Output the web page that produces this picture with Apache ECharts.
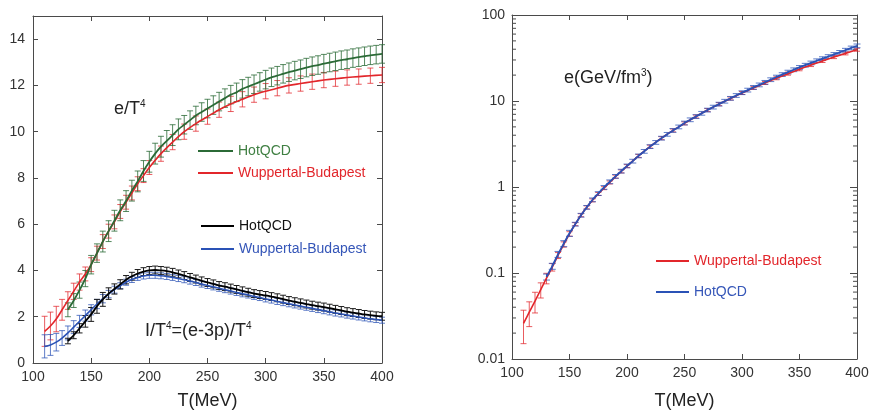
<!DOCTYPE html>
<html><head><meta charset="utf-8">
<script src="https://cdn.jsdelivr.net/npm/echarts@6/dist/echarts.min.js"></script>
<style>html,body{margin:0;padding:0;background:#fff}#c{width:870px;height:412px}</style>
</head><body><div id="c"></div>
<script>
// ---------- data ----------
var hotT = [130,135,140,145,150,155,160,165,170,175,180,185,190,195,200,205,210,215,220,225,230,235,240,245,250,255,260,265,270,275,280,285,290,295,300,305,310,315,320,325,330,335,340,345,350,355,360,365,370,375,380,385,390,395,400];
var hotEoverT4 = [2.3,2.7,3.15,3.65,4.25,4.75,5.25,5.7,6.15,6.6,7.0,7.45,7.85,8.3,8.7,9.05,9.35,9.6,9.85,10.1,10.3,10.5,10.7,10.85,11.0,11.15,11.3,11.45,11.6,11.7,11.85,11.95,12.05,12.15,12.25,12.35,12.42,12.5,12.57,12.64,12.7,12.77,12.83,12.88,12.94,12.99,13.04,13.09,13.13,13.18,13.22,13.26,13.3,13.33,13.36];
var hotEoverT4Err = [0.3,0.3,0.35,0.35,0.4,0.4,0.45,0.45,0.45,0.45,0.45,0.45,0.45,0.45,0.45,0.45,0.45,0.45,0.45,0.45,0.4,0.4,0.4,0.4,0.4,0.4,0.4,0.4,0.4,0.4,0.4,0.4,0.4,0.4,0.4,0.4,0.4,0.4,0.4,0.4,0.4,0.4,0.4,0.4,0.4,0.4,0.4,0.4,0.4,0.4,0.4,0.4,0.4,0.4,0.4];
var hotTrace = [0.95,1.2,1.5,1.8,2.1,2.45,2.75,3.0,3.2,3.4,3.6,3.75,3.87,3.95,4.0,4.02,4.0,3.97,3.92,3.85,3.78,3.7,3.63,3.55,3.48,3.42,3.35,3.3,3.24,3.18,3.12,3.06,3.0,2.96,2.92,2.87,2.82,2.76,2.7,2.65,2.6,2.55,2.5,2.46,2.42,2.37,2.32,2.27,2.22,2.18,2.14,2.1,2.07,2.04,2.02];
var hotTraceErr = [0.12,0.15,0.2,0.25,0.3,0.3,0.3,0.25,0.22,0.2,0.18,0.17,0.17,0.17,0.17,0.17,0.17,0.17,0.17,0.17,0.17,0.17,0.17,0.17,0.17,0.17,0.17,0.17,0.17,0.17,0.17,0.17,0.17,0.17,0.17,0.17,0.17,0.17,0.17,0.17,0.17,0.17,0.17,0.17,0.17,0.17,0.17,0.17,0.17,0.17,0.17,0.17,0.17,0.17,0.17];
var hotEnergy = [0.09,0.12,0.165,0.22,0.29,0.37,0.47,0.58,0.71,0.84,0.99,1.15,1.33,1.53,1.76,2.0,2.3,2.6,2.95,3.3,3.7,4.1,4.55,5.0,5.55,6.05,6.6,7.2,7.85,8.5,9.2,9.95,10.75,11.6,12.5,13.4,14.4,15.4,16.5,17.7,19.0,20.3,21.7,23.1,24.6,26.1,27.7,29.4,31.1,32.9,34.8,36.8,39.0,41.4,43.8];
var hotEnergyRelErr = [0.08,0.08,0.08,0.08,0.08,0.05,0.05,0.05,0.05,0.05,0.05,0.05,0.05,0.05,0.05,0.05,0.05,0.05,0.05,0.05,0.05,0.05,0.05,0.05,0.05,0.05,0.05,0.05,0.05,0.05,0.05,0.05,0.05,0.05,0.05,0.05,0.05,0.05,0.05,0.05,0.05,0.05,0.05,0.05,0.05,0.05,0.05,0.05,0.05,0.05,0.05,0.05,0.05,0.05,0.05];

var wbT = [110,115,120,125,130,135,140,145,150,155,160,165,170,175,180,185,190,195,200,210,220,230,240,250,260,270,280,290,300,310,320,330,340,350,360,370,380,390,400];
var wbEoverT4 = [1.37,1.6,1.9,2.3,2.7,3.1,3.5,3.85,4.25,4.75,5.25,5.7,6.1,6.55,6.95,7.35,7.75,8.1,8.45,9.05,9.55,10.0,10.35,10.65,10.95,11.2,11.4,11.6,11.75,11.88,12.0,12.08,12.16,12.23,12.29,12.34,12.38,12.42,12.45];
var wbEoverT4Err = [0.65,0.6,0.55,0.45,0.38,0.35,0.35,0.3,0.3,0.3,0.3,0.3,0.3,0.3,0.3,0.3,0.3,0.3,0.3,0.33,0.33,0.33,0.33,0.33,0.33,0.33,0.33,0.33,0.33,0.33,0.33,0.33,0.33,0.33,0.33,0.33,0.33,0.33,0.33];
var wbEnergy = [0.026,0.035,0.047,0.064,0.087,0.117,0.16,0.215,0.285,0.37,0.47,0.58,0.7,0.83,0.97,1.13,1.32,1.52,1.75,2.3,2.95,3.7,4.55,5.5,6.6,7.85,9.2,10.7,12.4,14.2,16.2,18.4,20.8,23.4,26.2,29.2,32.4,35.8,39.5];
var wbEnergyRelErr = [0.42,0.32,0.27,0.2,0.14,0.1,0.08,0.07,0.06,0.04,0.04,0.04,0.04,0.04,0.04,0.04,0.04,0.04,0.04,0.04,0.04,0.04,0.04,0.04,0.04,0.04,0.04,0.04,0.04,0.04,0.04,0.04,0.04,0.04,0.04,0.04,0.04,0.04,0.04];

var wbTraceT = [110,115,120,125,130,135,140,145,150,155,160,165,170,175,180,185,190,195,200,205,210,215,220,225,230,235,240,245,250,255,260,265,270,275,280,285,290,295,300,305,310,315,320,325,330,335,340,345,350,355,360,365,370,375,380,385,390,395,400];
var wbTrace = [0.72,0.78,0.9,1.08,1.3,1.55,1.8,2.05,2.3,2.55,2.78,2.98,3.17,3.34,3.49,3.61,3.7,3.76,3.79,3.79,3.77,3.74,3.7,3.65,3.6,3.54,3.48,3.41,3.35,3.29,3.23,3.17,3.11,3.05,2.99,2.94,2.88,2.83,2.77,2.72,2.66,2.61,2.56,2.51,2.46,2.41,2.36,2.31,2.26,2.21,2.16,2.12,2.07,2.03,1.99,1.95,1.91,1.88,1.85];
var wbTraceErr = [0.5,0.45,0.38,0.32,0.3,0.28,0.26,0.24,0.22,0.2,0.18,0.16,0.15,0.13,0.13,0.13,0.13,0.13,0.13,0.13,0.13,0.13,0.13,0.13,0.13,0.13,0.13,0.13,0.13,0.13,0.13,0.13,0.13,0.13,0.13,0.13,0.13,0.13,0.13,0.13,0.13,0.13,0.13,0.13,0.13,0.13,0.13,0.13,0.13,0.13,0.13,0.13,0.13,0.13,0.13,0.13,0.13,0.13,0.13];

var logMinorTickValues = [0.02,0.03,0.04,0.05,0.06,0.07,0.08,0.09,0.2,0.3,0.4,0.5,0.6,0.7,0.8,0.9,2,3,4,5,6,7,8,9,20,30,40,50,60,70,80,90];

var seriesNames = {hot: 'HotQCD', wb: 'Wuppertal-Budapest'};
var xAxisTitle = 'T(MeV)';

// ---------- helpers ----------
var FONT = '"Liberation Sans", Arial, Helvetica, sans-serif';
var C = {
  green: '#2b6a36', greenBar: 'rgba(43,106,54,0.8)', greenText: '#3f7f42',
  red: '#e2262b', redBar: 'rgba(226,38,43,0.75)',
  black: '#000000', blackBar: '#1a1a1a',
  blue: '#2a52b6', blueBar: 'rgba(42,82,182,0.75)', blueText: '#3556b8',
  axis: '#4a4a4a', label: '#333333'
};
function pairs(xs, ys) { return xs.map(function (x, i) { return [x, ys[i]]; }); }
function bars(xs, ys, es) { return xs.map(function (x, i) { return [x, ys[i] - es[i], ys[i] + es[i]]; }); }
function relBars(xs, ys, rs) { return xs.map(function (x, i) { return [x, ys[i] * (1 - rs[i]), ys[i] * (1 + rs[i])]; }); }
function errBar(color, half, w) {
  return function (params, api) {
    var x = api.value(0);
    var a = api.coord([x, api.value(1)]);
    var b = api.coord([x, api.value(2)]);
    var st = {stroke: color, lineWidth: w || 1};
    return {type: 'group', children: [
      {type: 'line', shape: {x1: a[0], y1: a[1], x2: b[0], y2: b[1]}, style: st},
      {type: 'line', shape: {x1: a[0] - half, y1: a[1], x2: a[0] + half, y2: a[1]}, style: st},
      {type: 'line', shape: {x1: b[0] - half, y1: b[1], x2: b[0] + half, y2: b[1]}, style: st}
    ]};
  };
}
function minorTickRender(params, api) {
  var v = api.value(1);
  var l = api.coord([100, v]);
  var r = api.coord([400, v]);
  var st = {stroke: C.axis, lineWidth: 1};
  return {type: 'group', children: [
    {type: 'line', shape: {x1: l[0], y1: l[1], x2: l[0] + 4, y2: l[1]}, style: st},
    {type: 'line', shape: {x1: r[0] - 4, y1: r[1], x2: r[0], y2: r[1]}, style: st}
  ]};
}
function xAx(grid, show, gap) {
  return {
    type: 'value', gridIndex: grid, min: 100, max: 400, interval: 50,
    position: show ? 'bottom' : 'top',
    name: show ? xAxisTitle : '', nameLocation: 'middle', nameGap: gap || 30,
    nameTextStyle: {fontSize: 18, color: '#222', fontFamily: FONT},
    axisLine: {show: true, onZero: false, lineStyle: {color: C.axis, width: 1}},
    axisTick: {show: true, inside: true, length: 5, lineStyle: {color: C.axis}},
    axisLabel: {show: show, fontSize: 14, color: C.label, fontFamily: FONT, margin: 7},
    splitLine: {show: false}
  };
}
var lineCommon = {type: 'line', showSymbol: false, smooth: 0.3, z: 5, animation: false};
var barCommon = {type: 'custom', z: 3, animation: false, encode: {x: 0, y: [1, 2]}, silent: true};

var chart = echarts.init(document.getElementById('c'), null, {renderer: 'canvas'});
chart.setOption({
  animation: false,
  backgroundColor: '#ffffff',
  grid: [
    {left: 33, top: 16, width: 349, height: 347, containLabel: false, outerBoundsMode: 'none'},
    {left: 512, top: 15, width: 345, height: 344, containLabel: false, outerBoundsMode: 'none'}
  ],
  xAxis: [xAx(0, true, 29), xAx(0, false), xAx(1, true, 33), xAx(1, false)],
  yAxis: [
    {type: 'value', gridIndex: 0, min: 0, max: 15, interval: 2, position: 'left',
      axisLine: {show: true, onZero: false, lineStyle: {color: C.axis}},
      axisTick: {show: true, inside: true, length: 5, lineStyle: {color: C.axis}},
      axisLabel: {fontSize: 14, color: C.label, fontFamily: FONT, margin: 8, showMaxLabel: false},
      splitLine: {show: false}},
    {type: 'value', gridIndex: 0, min: 0, max: 15, interval: 2, position: 'right',
      axisLine: {show: true, onZero: false, lineStyle: {color: C.axis}},
      axisTick: {show: true, inside: true, length: 5, lineStyle: {color: C.axis}},
      axisLabel: {show: false}, splitLine: {show: false}},
    {type: 'log', gridIndex: 1, min: 0.01, max: 100, logBase: 10, position: 'left',
      axisLine: {show: true, onZero: false, lineStyle: {color: C.axis}},
      axisTick: {show: true, inside: true, length: 7, lineStyle: {color: C.axis}},
      axisLabel: {fontSize: 14, color: C.label, fontFamily: FONT, margin: 7},
      splitLine: {show: false}},
    {type: 'log', gridIndex: 1, min: 0.01, max: 100, logBase: 10, position: 'right',
      axisLine: {show: true, onZero: false, lineStyle: {color: C.axis}},
      axisTick: {show: true, inside: true, length: 7, lineStyle: {color: C.axis}},
      axisLabel: {show: false}, splitLine: {show: false}}
  ],
  legend: [
    {left: 193, top: 139, orient: 'vertical', icon: 'rect', itemWidth: 35, itemHeight: 2, itemGap: 8, selectedMode: false,
      textStyle: {fontSize: 14, fontFamily: FONT},
      data: [{name: seriesNames.hot, itemStyle: {color: C.green}, textStyle: {color: C.greenText}},
             {name: seriesNames.wb, itemStyle: {color: C.red}, textStyle: {color: C.red}}]},
    {left: 196, top: 214, orient: 'vertical', icon: 'rect', itemWidth: 33, itemHeight: 2, itemGap: 9, selectedMode: false,
      textStyle: {fontSize: 14, fontFamily: FONT},
      data: [{name: seriesNames.hot, itemStyle: {color: C.black}, textStyle: {color: '#111'}},
             {name: seriesNames.wb, itemStyle: {color: C.blue}, textStyle: {color: C.blueText}}]},
    {left: 651, top: 249, orient: 'vertical', icon: 'rect', itemWidth: 33, itemHeight: 2, itemGap: 17, selectedMode: false,
      textStyle: {fontSize: 14, fontFamily: FONT},
      data: [{name: seriesNames.wb, itemStyle: {color: C.red}, textStyle: {color: C.red}},
             {name: seriesNames.hot, itemStyle: {color: C.blue}, textStyle: {color: C.blueText}}]}
  ],
  graphic: [
    {type: 'text', left: 114, top: 99, style: {text: '{a|e/T}{s|4}', rich: {a: {fontSize: 18, fontFamily: FONT, fill: '#222'}, s: {fontSize: 10, fontFamily: FONT, fill: '#222', padding: [0, 0, 11, 0]}}}},
    {type: 'text', left: 145, top: 321, style: {text: '{a|I/T}{s|4}{a|=(e-3p)/T}{s|4}', rich: {a: {fontSize: 18, fontFamily: FONT, fill: '#222'}, s: {fontSize: 10, fontFamily: FONT, fill: '#222', padding: [0, 0, 11, 0]}}}},
    {type: 'text', left: 564, top: 68, style: {text: '{a|e(GeV/fm}{s|3}{a|)}', rich: {a: {fontSize: 18, fontFamily: FONT, fill: '#222'}, s: {fontSize: 10, fontFamily: FONT, fill: '#222', padding: [0, 0, 11, 0]}}}}
  ],
  series: [
    Object.assign({}, barCommon, {xAxisIndex: 0, yAxisIndex: 0, data: bars(wbT, wbEoverT4, wbEoverT4Err), renderItem: errBar(C.redBar, 3)}),
    Object.assign({}, barCommon, {xAxisIndex: 0, yAxisIndex: 0, data: bars(hotT, hotEoverT4, hotEoverT4Err), renderItem: errBar(C.greenBar, 3)}),
    Object.assign({}, barCommon, {xAxisIndex: 0, yAxisIndex: 0, data: bars(wbTraceT, wbTrace, wbTraceErr), renderItem: errBar(C.blueBar, 3)}),
    Object.assign({}, barCommon, {xAxisIndex: 0, yAxisIndex: 0, data: bars(hotT, hotTrace, hotTraceErr), renderItem: errBar(C.blackBar, 3)}),
    Object.assign({}, lineCommon, {name: seriesNames.wb, xAxisIndex: 0, yAxisIndex: 0, data: pairs(wbT, wbEoverT4), lineStyle: {color: C.red, width: 1.6}, itemStyle: {color: C.red}}),
    Object.assign({}, lineCommon, {name: seriesNames.hot, xAxisIndex: 0, yAxisIndex: 0, data: pairs(hotT, hotEoverT4), lineStyle: {color: C.green, width: 1.8}, itemStyle: {color: C.green}}),
    Object.assign({}, lineCommon, {name: seriesNames.wb, xAxisIndex: 0, yAxisIndex: 0, data: pairs(wbTraceT, wbTrace), lineStyle: {color: C.blue, width: 1.6}, itemStyle: {color: C.blue}}),
    Object.assign({}, lineCommon, {name: seriesNames.hot, xAxisIndex: 0, yAxisIndex: 0, data: pairs(hotT, hotTrace), lineStyle: {color: C.black, width: 1.8}, itemStyle: {color: C.black}}),
    Object.assign({}, barCommon, {xAxisIndex: 2, yAxisIndex: 2, data: relBars(wbT, wbEnergy, wbEnergyRelErr), renderItem: errBar(C.redBar, 3)}),
    Object.assign({}, barCommon, {xAxisIndex: 2, yAxisIndex: 2, data: relBars(hotT, hotEnergy, hotEnergyRelErr), renderItem: errBar(C.blueBar, 3.5)}),
    Object.assign({}, lineCommon, {name: seriesNames.wb, xAxisIndex: 2, yAxisIndex: 2, data: pairs(wbT, wbEnergy), lineStyle: {color: C.red, width: 1.6}, itemStyle: {color: C.red}}),
    Object.assign({}, lineCommon, {name: seriesNames.hot, xAxisIndex: 2, yAxisIndex: 2, data: pairs(hotT, hotEnergy), lineStyle: {color: C.blue, width: 1.8}, itemStyle: {color: C.blue}}),
    {type: 'custom', xAxisIndex: 2, yAxisIndex: 2, silent: true, animation: false, z: 2,
      data: logMinorTickValues.map(function (v) { return [100, v]; }), encode: {x: 0, y: 1}, renderItem: minorTickRender}
  ]
});
</script></body></html>
